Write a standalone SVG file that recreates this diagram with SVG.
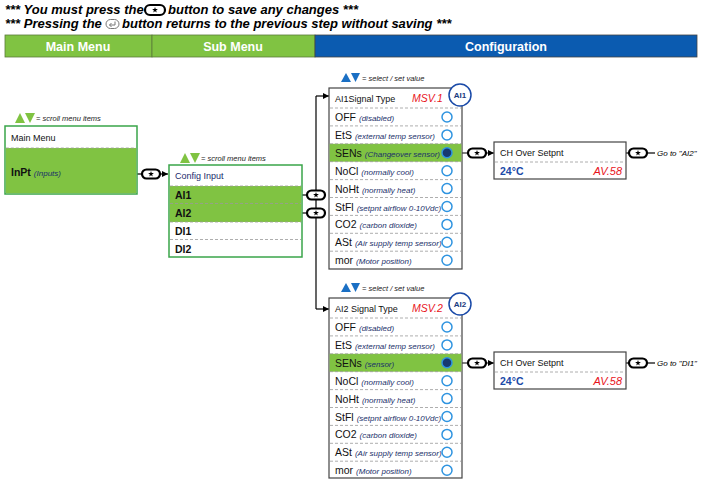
<svg xmlns="http://www.w3.org/2000/svg" xmlns:xlink="http://www.w3.org/1999/xlink" width="725" height="484" viewBox="0 0 725 484">
<style>
text{font-family:"Liberation Sans",Arial,sans-serif;}
.note{font-size:13px;font-weight:bold;font-style:italic;fill:#000;}
.hdr{font-size:12.5px;font-weight:bold;fill:#fff;text-anchor:middle;}
.hint{font-size:7.5px;font-style:italic;fill:#222;}
.boxg{fill:#fff;stroke:#3aa54a;stroke-width:1.5;}
.boxd{fill:#fff;stroke:#444;stroke-width:1.2;}
.grn{fill:#80c342;}
.dash{stroke:#999;stroke-width:0.8;stroke-dasharray:3,2;fill:none;}
.ttl{font-size:9px;fill:#111;}
.ttlb{font-size:9px;fill:#1a2a6c;}
.itm{font-size:10.5px;fill:#111;}
.ib{font-size:10.5px;font-weight:bold;fill:#111;}
.par{font-size:8px;font-style:italic;fill:#1a2f6a;}
.msv{font-size:10.5px;font-style:italic;fill:#e8141b;}
.rad{fill:#fff;stroke:#2f94e0;stroke-width:1.5;}
.sel{fill:#163a70;stroke:#2f94e0;stroke-width:1.5;}
.ln{stroke:#000;stroke-width:1.2;fill:none;}
.val{font-size:10.5px;font-weight:bold;fill:#1a4aa8;}
.av{font-size:11px;font-style:italic;fill:#e8141b;text-anchor:end;}
.goto{font-size:8px;font-style:italic;fill:#000;}
.badge{fill:#fff;stroke:#1a4aa8;stroke-width:1.5;}
.badget{font-size:8px;font-weight:bold;fill:#1a3a80;text-anchor:middle;}
</style>
<defs>
<marker id="ar" viewBox="0 0 8 8" refX="8" refY="4" markerWidth="6" markerHeight="6" orient="auto" markerUnits="userSpaceOnUse">
<path d="M0,0 L8,4 L0,8 Z" fill="#000"/>
</marker>
<path id="star" d="M0,-3 L0.7,-1 L2.9,-0.9 L1.1,0.4 L1.8,2.4 L0,1.2 L-1.8,2.4 L-1.1,0.4 L-2.9,-0.9 L-0.7,-1 Z" fill="#000"/>
<g id="btn">
<rect x="-9" y="-4.5" width="18" height="9" rx="4.5" fill="#fff" stroke="#000" stroke-width="2.2"/>
<use xlink:href="#star"/>
</g>
<g id="grntri">
<path d="M0,10 L5,0 L10,10 Z" fill="#80c342"/>
<path d="M10,0 L20,0 L15,10 Z" fill="#80c342"/>
</g>
<g id="bluetri">
<path d="M0,9 L5,0 L10,9 Z" fill="#1a6fc4"/>
<path d="M10,0 L19,0 L14.5,9 Z" fill="#1a6fc4"/>
</g>
</defs>

<!-- notes -->
<g id="notes">
<text class="note" x="5" y="14">*** You must press the</text>
<rect x="145" y="5" width="20" height="10" rx="5" fill="#fff" stroke="#000" stroke-width="2.2"/>
<use xlink:href="#star" x="155" y="10"/>
<text class="note" x="168" y="14">button to save any changes ***</text>
<text class="note" x="5" y="28">*** Pressing the</text>
<rect x="106" y="19.5" width="13" height="9" rx="4.5" fill="#fff" stroke="#777" stroke-width="1"/>
<path d="M115,21.5 L115,25 L109.5,25 M111.5,23 L109.5,25 L111.5,27" stroke="#777" stroke-width="1" fill="none"/>
<text class="note" x="122" y="28">button returns to the previous step without saving ***</text>
</g>

<!-- header bar -->
<g id="header">
<rect x="5" y="35" width="147" height="22" fill="#80c342" stroke="#5a7a3a" stroke-width="0.8"/>
<rect x="152" y="35" width="163" height="22" fill="#80c342" stroke="#5a7a3a" stroke-width="0.8"/>
<rect x="315" y="35" width="382" height="22" fill="#0b5bb0" stroke="#444" stroke-width="0.8"/>
<text class="hdr" x="78" y="50.5">Main Menu</text>
<text class="hdr" x="233" y="50.5">Sub Menu</text>
<text class="hdr" x="506" y="50.5">Configuration</text>
</g>

<!-- connectors -->
<g id="connectors">
<path class="ln" d="M137,174 L168,174" marker-end="url(#ar)"/>
<use xlink:href="#btn" x="151" y="174"/>
<path class="ln" d="M302,195 L316,195"/>
<path class="ln" d="M302,213 L316,213"/>
<path class="ln" d="M316,96 L316,309"/>
<path class="ln" d="M316,96 L329,96" marker-end="url(#ar)"/>
<path class="ln" d="M316,309 L329,309" marker-end="url(#ar)"/>
<use xlink:href="#btn" x="316" y="195"/>
<use xlink:href="#btn" x="316" y="213"/>
<path class="ln" d="M452,153 L494,153" marker-end="url(#ar)"/>
<use xlink:href="#btn" x="477" y="153"/>
<path class="ln" d="M626,153 L655,153"/>
<use xlink:href="#btn" x="638" y="153"/>
<path class="ln" d="M452,363 L494,363" marker-end="url(#ar)"/>
<use xlink:href="#btn" x="477" y="363"/>
<path class="ln" d="M626,363 L655,363"/>
<use xlink:href="#btn" x="638" y="363"/>
</g>

<!-- Main menu -->
<g id="main-menu">
<use xlink:href="#grntri" x="15" y="113"/>
<text class="hint" x="36" y="121">= scroll menu items</text>
<rect class="boxg" x="5" y="126" width="132" height="68"/>
<rect class="grn" x="5.8" y="148" width="130.4" height="45.2"/>
<line class="dash" x1="5.8" y1="148" x2="136.2" y2="148"/>
<text class="ttl" x="11" y="141">Main Menu</text>
<text x="11" y="176"><tspan class="ib">InPt</tspan><tspan class="par" dx="3">(Inputs)</tspan></text>
</g>

<!-- Config input -->
<g id="config-input">
<use xlink:href="#grntri" x="180" y="153"/>
<text class="hint" x="201" y="161">= scroll menu items</text>
<rect class="boxg" x="169" y="165" width="133" height="92"/>
<rect class="grn" x="169.8" y="186" width="131.4" height="36"/>
<line class="dash" x1="170" y1="186" x2="301" y2="186"/>
<line class="dash" x1="170" y1="203.5" x2="301" y2="203.5"/>
<line class="dash" x1="170" y1="222" x2="301" y2="222"/>
<line class="dash" x1="170" y1="239.5" x2="301" y2="239.5"/>
<text class="ttlb" x="175" y="179">Config Input</text>
<text class="ib" x="175" y="198.5">AI1</text>
<text class="ib" x="175" y="216.5">AI2</text>
<text class="ib" x="175" y="234.5">DI1</text>
<text class="ib" x="175" y="252.5">DI2</text>
</g>

<!-- AI1 signal type -->
<g id="ai1-signal">
<use xlink:href="#bluetri" x="341" y="73"/>
<text class="hint" x="362" y="81">= select / set value</text>
<rect class="boxd" x="329" y="88" width="133" height="181"/>
<rect class="grn" x="329.6" y="143.8" width="131.8" height="17.9"/>
<g class="dash">
<line x1="330" y1="108" x2="461" y2="108"/>
<line x1="330" y1="125.9" x2="461" y2="125.9"/>
<line x1="330" y1="143.8" x2="461" y2="143.8"/>
<line x1="330" y1="161.7" x2="461" y2="161.7"/>
<line x1="330" y1="179.6" x2="461" y2="179.6"/>
<line x1="330" y1="197.5" x2="461" y2="197.5"/>
<line x1="330" y1="215.4" x2="461" y2="215.4"/>
<line x1="330" y1="233.3" x2="461" y2="233.3"/>
<line x1="330" y1="251.2" x2="461" y2="251.2"/>
</g>
<text class="ttl" x="335" y="102">AI1Signal  Type</text>
<text class="msv" x="412" y="102">MSV.1</text>
<circle class="badge" cx="460" cy="95" r="11"/>
<text class="badget" x="460" y="98">AI1</text>
<text x="335" y="121"><tspan class="itm">OFF</tspan><tspan class="par" dx="3">(disabled)</tspan></text>
<text x="335" y="138.9"><tspan class="itm">EtS</tspan><tspan class="par" dx="3">(external temp sensor)</tspan></text>
<text x="335" y="156.8"><tspan class="itm">SENs</tspan><tspan class="par" dx="3">(Changeover sensor)</tspan></text>
<text x="335" y="174.7"><tspan class="itm">NoCl</tspan><tspan class="par" dx="3">(normally cool)</tspan></text>
<text x="335" y="192.6"><tspan class="itm">NoHt</tspan><tspan class="par" dx="3">(normally heat)</tspan></text>
<text x="335" y="210.5"><tspan class="itm">StFl</tspan><tspan class="par" dx="3">(setpnt airflow 0-10Vdc)</tspan></text>
<text x="335" y="228.4"><tspan class="itm">CO2</tspan><tspan class="par" dx="3">(carbon dioxide)</tspan></text>
<text x="335" y="246.3"><tspan class="itm">ASt</tspan><tspan class="par" dx="3">(Air supply temp sensor)</tspan></text>
<text x="335" y="264.2"><tspan class="itm">mor</tspan><tspan class="par" dx="3">(Motor position)</tspan></text>
<circle class="rad" cx="447" cy="117" r="5"/>
<circle class="rad" cx="447" cy="134.9" r="5"/>
<circle class="sel" cx="447" cy="152.8" r="5"/>
<circle class="rad" cx="447" cy="170.7" r="5"/>
<circle class="rad" cx="447" cy="188.6" r="5"/>
<circle class="rad" cx="447" cy="206.5" r="5"/>
<circle class="rad" cx="447" cy="224.4" r="5"/>
<circle class="rad" cx="447" cy="242.3" r="5"/>
<circle class="rad" cx="447" cy="260.2" r="5"/>
</g>

<!-- AI2 signal type -->
<g id="ai2-signal">
<use xlink:href="#bluetri" x="341" y="283"/>
<text class="hint" x="362" y="291">= select / set value</text>
<rect class="boxd" x="329" y="298" width="133" height="180"/>
<rect class="grn" x="329.6" y="353.8" width="131.8" height="17.9"/>
<g class="dash">
<line x1="330" y1="318" x2="461" y2="318"/>
<line x1="330" y1="335.9" x2="461" y2="335.9"/>
<line x1="330" y1="353.8" x2="461" y2="353.8"/>
<line x1="330" y1="371.7" x2="461" y2="371.7"/>
<line x1="330" y1="389.6" x2="461" y2="389.6"/>
<line x1="330" y1="407.5" x2="461" y2="407.5"/>
<line x1="330" y1="425.4" x2="461" y2="425.4"/>
<line x1="330" y1="443.3" x2="461" y2="443.3"/>
<line x1="330" y1="461.2" x2="461" y2="461.2"/>
</g>
<text class="ttl" x="335" y="312">AI2 Signal  Type</text>
<text class="msv" x="412" y="312">MSV.2</text>
<circle class="badge" cx="460" cy="304" r="11"/>
<text class="badget" x="460" y="307">AI2</text>
<text x="335" y="331"><tspan class="itm">OFF</tspan><tspan class="par" dx="3">(disabled)</tspan></text>
<text x="335" y="348.9"><tspan class="itm">EtS</tspan><tspan class="par" dx="3">(external temp sensor)</tspan></text>
<text x="335" y="366.8"><tspan class="itm">SENs</tspan><tspan class="par" dx="3">(sensor)</tspan></text>
<text x="335" y="384.7"><tspan class="itm">NoCl</tspan><tspan class="par" dx="3">(normally cool)</tspan></text>
<text x="335" y="402.6"><tspan class="itm">NoHt</tspan><tspan class="par" dx="3">(normally heat)</tspan></text>
<text x="335" y="420.5"><tspan class="itm">StFl</tspan><tspan class="par" dx="3">(setpnt airflow 0-10Vdc)</tspan></text>
<text x="335" y="438.4"><tspan class="itm">CO2</tspan><tspan class="par" dx="3">(carbon dioxide)</tspan></text>
<text x="335" y="456.3"><tspan class="itm">ASt</tspan><tspan class="par" dx="3">(Air supply temp sensor)</tspan></text>
<text x="335" y="474.2"><tspan class="itm">mor</tspan><tspan class="par" dx="3">(Motor position)</tspan></text>
<circle class="rad" cx="447" cy="327" r="5"/>
<circle class="rad" cx="447" cy="344.9" r="5"/>
<circle class="sel" cx="447" cy="362.8" r="5"/>
<circle class="rad" cx="447" cy="380.7" r="5"/>
<circle class="rad" cx="447" cy="398.6" r="5"/>
<circle class="rad" cx="447" cy="416.5" r="5"/>
<circle class="rad" cx="447" cy="434.4" r="5"/>
<circle class="rad" cx="447" cy="452.3" r="5"/>
<circle class="rad" cx="447" cy="470.2" r="5"/>
</g>

<!-- CH Over setpoint 1 -->
<g id="chover-1">
<rect class="boxd" x="494" y="142" width="132" height="37"/>
<line class="dash" x1="495" y1="162" x2="625" y2="162"/>
<text class="ttl" x="500" y="156">CH Over  Setpnt</text>
<text class="val" x="500" y="175">24°C</text>
<text class="av" x="622" y="175">AV.58</text>
<text class="goto" x="657" y="156">Go to "AI2"</text>
</g>

<!-- CH Over setpoint 2 -->
<g id="chover-2">
<rect class="boxd" x="494" y="352" width="132" height="37"/>
<line class="dash" x1="495" y1="372" x2="625" y2="372"/>
<text class="ttl" x="500" y="366">CH Over  Setpnt</text>
<text class="val" x="500" y="385">24°C</text>
<text class="av" x="622" y="385">AV.58</text>
<text class="goto" x="657" y="366">Go to "DI1"</text>
</g>
</svg>
